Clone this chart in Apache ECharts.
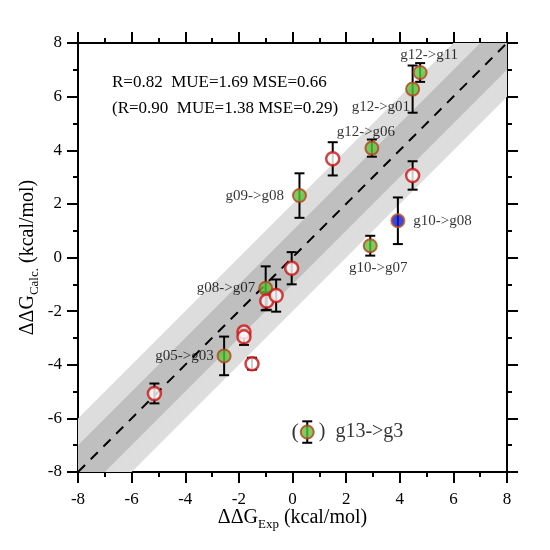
<!DOCTYPE html>
<html>
<head>
<meta charset="utf-8">
<script src="https://cdn.jsdelivr.net/npm/echarts@6/dist/echarts.min.js"></script>
<style>
  html, body { margin: 0; padding: 0; background: #fff; }
  #main { width: 550px; height: 550px; }
</style>
</head>
<body>
<div id="main"></div>
<script>
/* data */
var names   = ['g12->g11','g12->g01','g12->g06','','','g09->g08','g10->g08','g10->g07','','g08->g07','','','','','g05->g03','','','g13->g3'];
var expVals = [4.76, 4.48, 2.96, 1.50, 4.48, 0.26, 3.93, 2.90, -0.03, -1.00, -0.96, -0.61, -1.81, -1.81, -2.55, -1.51, -5.15, 0.55];
var calcVals= [6.90, 6.28, 4.08, 3.68, 3.06, 2.31, 1.37, 0.44, -0.40, -1.15, -1.62, -1.42, -2.78, -2.96, -3.67, -3.96, -5.07, -6.51];
var errVals = [0.35, 0.88, 0.32, 0.62, 0.53, 0.83, 0.87, 0.37, 0.60, 0.82, 0.33, 0.60, 0.12, 0.30, 0.72, 0.22, 0.37, 0.40];
var kinds   = ['green','green','green','open','open','green','blue','green','open','green','open','open','open','open','green','open','open','green'];
var axisMin = -8, axisMax = 8, tickStep = 2;
var bandWidths = [2, 1];
var diagLine = [[-8, -8], [8, 8]];
var statLines = ['R=0.82  MUE=1.69 MSE=0.66', '(R=0.90  MUE=1.38 MSE=0.29)'];

var serif = 'Liberation Serif';

/* marker look per kind */
var kindStyle = {
    open:  { color: '#ffffff', borderColor: '#cc1111', borderWidth: 2.5 },
    green: { color: '#5cc23a', borderColor: '#b8401c', borderWidth: 2 },
    blue:  { color: '#0a1ad0', borderColor: '#c8501c', borderWidth: 2 }
};
/* where each name label sits */
var labelPlace = {
    'g12->g11': { position: 'top', distance: 2, offset: [9, 0] },
    'g12->g01': { position: 'left', distance: 2, offset: [7, 18] },
    'g12->g06': { position: 'top', distance: 1, offset: [-6, 0] },
    'g09->g08': { position: 'left', distance: 8 },
    'g10->g08': { position: 'right', distance: 8 },
    'g10->g07': { position: 'bottom', distance: 7, offset: [8, 0] },
    'g08->g07': { position: 'left', distance: 3 },
    'g05->g03': { position: 'left', distance: 3 },
    'g13->g3':  { position: 'right', distance: 4, formatter: ')  g13->g3', fontSize: 20 }
};

var points = [], errs = [];
expVals.forEach(function (x, i) {
    var item = {
        value: [x, calcVals[i]],
        itemStyle: kindStyle[kinds[i]]
    };
    var lp = labelPlace[names[i]];
    if (lp) {
        item.label = {
            show: true,
            position: lp.position,
            distance: lp.distance,
            offset: lp.offset || [0, 0],
            formatter: lp.formatter || names[i],
            fontFamily: serif,
            fontSize: lp.fontSize || 15,
            color: '#000',
            textBorderWidth: 0
        };
    }
    points.push(item);
    errs.push([x, calcVals[i], errVals[i]]);
});

var renderErr = function (params, api) {
    var x = api.value(0), y = api.value(1), e = api.value(2);
    var top = api.coord([x, y + e]);
    var bot = api.coord([x, y - e]);
    var hw = 5;
    var st = { stroke: '#000', lineWidth: 2 };
    return {
        type: 'group',
        children: [
            { type: 'line', shape: { x1: top[0], y1: top[1], x2: bot[0], y2: bot[1] }, style: st },
            { type: 'line', shape: { x1: top[0] - hw, y1: top[1], x2: top[0] + hw, y2: top[1] }, style: st },
            { type: 'line', shape: { x1: bot[0] - hw, y1: bot[1], x2: bot[0] + hw, y2: bot[1] }, style: st }
        ]
    };
};

var bandColors = ['#dddddd', '#bfbfbf'];
var renderBand = function (params, api) {
    var w = api.value(0);
    var pts = [
        api.coord([axisMin, axisMin + w]),
        api.coord([axisMax - w, axisMax]),
        api.coord([axisMax, axisMax]),
        api.coord([axisMax, axisMax - w]),
        api.coord([axisMin + w, axisMin]),
        api.coord([axisMin, axisMin])
    ];
    return {
        type: 'polygon',
        shape: { points: pts },
        style: { fill: bandColors[params.dataIndex] }
    };
};

var axisBase = function (pos, showLabel) {
    return {
        type: 'value',
        position: pos,
        min: axisMin,
        max: axisMax,
        interval: tickStep,
        splitLine: { show: false },
        axisLine: { show: true, onZero: false, lineStyle: { color: '#000', width: 2 } },
        axisTick: { show: true, inside: false, length: 11, lineStyle: { color: '#000', width: 2 } },
        minorTick: { show: true, splitNumber: 2, length: 5, lineStyle: { color: '#000', width: 2 } },
        axisLabel: { show: showLabel, fontFamily: serif, fontSize: 17, color: '#000', margin: 16 }
    };
};

var nameRich = {
    a: { fontFamily: serif, fontSize: 20, color: '#000' },
    s: { fontFamily: serif, fontSize: 13, color: '#000', padding: [13, 0, 0, 0] }
};

var xBottom = axisBase('bottom', true);
xBottom.name = '{a|ΔΔG}{s|Exp}{a| (kcal/mol)}';
xBottom.nameLocation = 'middle';
xBottom.nameGap = 33;
xBottom.nameMoveOverlap = false;
xBottom.nameTextStyle = { rich: nameRich };
xBottom.axisLabel.margin = 19;
var xTop = axisBase('top', false);

var yLeft = axisBase('left', true);
yLeft.name = '{a|ΔΔG}{s|Calc.}{a| (kcal/mol)}';
yLeft.nameLocation = 'middle';
yLeft.nameRotate = 90;
yLeft.nameGap = 37;
yLeft.nameMoveOverlap = false;
yLeft.nameTextStyle = { rich: nameRich };
var yRight = axisBase('right', false);

var myChart = echarts.init(document.getElementById('main'));
var options = {
    animation: false,
    backgroundColor: '#fff',
    grid: { left: 78, right: 43, top: 43, bottom: 78, containLabel: false },
    xAxis: [xBottom, xTop],
    yAxis: [yLeft, yRight],
    graphic: [
        { type: 'text', left: 112, top: 74, style: { text: statLines[0], font: '17px "Liberation Serif"', fill: '#000' } },
        { type: 'text', left: 112, top: 100, style: { text: statLines[1], font: '17px "Liberation Serif"', fill: '#000' } }
    ],
    series: [
        {
            type: 'custom',
            renderItem: renderBand,
            data: bandWidths.map(function (w) { return [w]; }),
            clip: true,
            silent: true,
            z: 1
        },
        {
            type: 'line',
            data: diagLine,
            symbol: 'none',
            lineStyle: { color: '#000', width: 2, type: [10, 8] },
            silent: true,
            z: 2
        },
        {
            type: 'custom',
            renderItem: renderErr,
            data: errs,
            z: 3
        },
        {
            type: 'scatter',
            symbol: 'circle',
            symbolSize: 13,
            data: points,
            z: 4
        },
        {
            /* opening bracket round the g13->g3 marker */
            type: 'scatter',
            symbolSize: 13,
            itemStyle: { color: 'rgba(0,0,0,0)' },
            data: [[expVals[17], calcVals[17]]],
            label: { show: true, position: 'left', distance: 2, formatter: '(', fontFamily: serif, fontSize: 22, color: '#000' },
            z: 4
        }
    ]
};
myChart.setOption(options);
</script>
</body>
</html>
